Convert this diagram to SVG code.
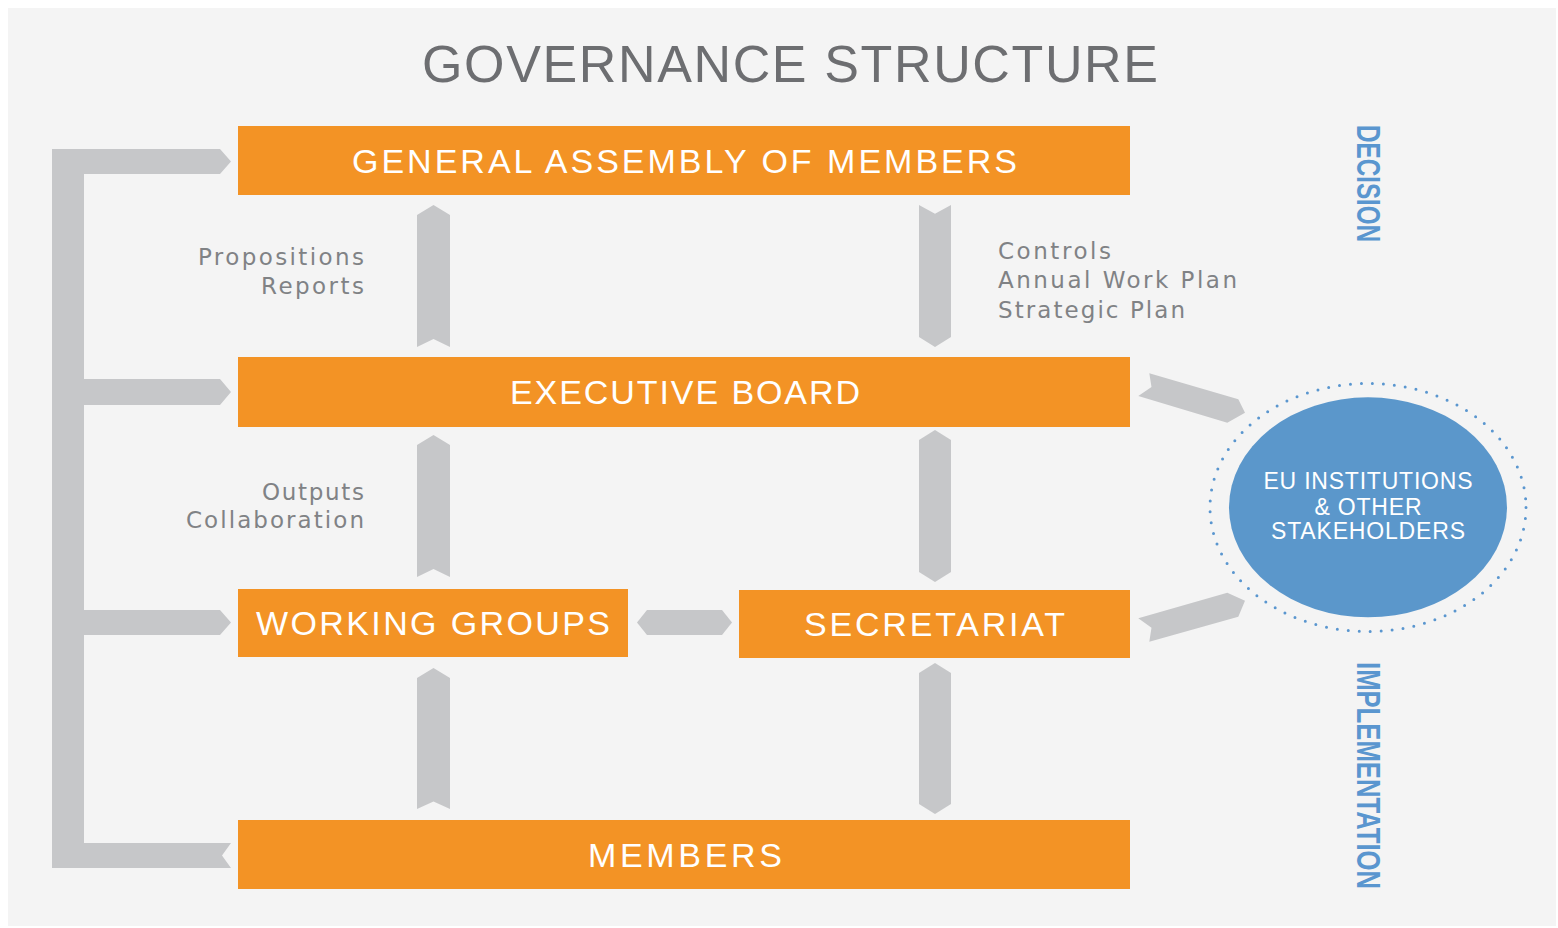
<svg xmlns="http://www.w3.org/2000/svg" width="1558" height="928" viewBox="0 0 1558 928">
  <style>
    .box { fill: #f39325; }
    .btxt { fill: #ffffff; font-family: "Liberation Sans", Arial, sans-serif; font-size: 34px; text-anchor: middle; }
    .conn { fill: #c6c7c9; }
    .lbl { fill: #808285; font-family: "DejaVu Sans", "Liberation Sans", sans-serif; font-size: 23px; }
    .r { text-anchor: end; }
    .vtxt { fill: #5a96cf; font-family: "Liberation Sans", Arial, sans-serif; font-size: 34px; font-weight: bold; }
    .ctxt { fill: #ffffff; font-family: "Liberation Sans", Arial, sans-serif; font-size: 23px; text-anchor: middle; }
  </style>
  <rect x="0" y="0" width="1558" height="928" fill="#ffffff"/>
  <rect x="8" y="8" width="1548" height="918" fill="#f4f4f4"/>

  <text id="title" x="790" y="82" fill="#6d6e71" font-family="Liberation Sans, Arial, sans-serif" font-size="52" text-anchor="middle" textLength="736" lengthAdjust="spacing">GOVERNANCE STRUCTURE</text>

  <g id="connectors">
    <path class="conn" d="M52,149 L220,149 L231,161.5 L220,174 L84,174 L84,379 L220,379 L231,392 L220,405 L84,405 L84,610 L220,610 L231,622.5 L220,635 L84,635 L84,843 L231,843 L222,855.5 L231,868 L52,868 Z"/>
    <polygon class="conn" points="433.5,205 450,215 450,347 433.5,339 417,347 417,215"/>
    <polygon class="conn" points="919,205 935,213.7 951,205 951,337 935,347 919,337"/>
    <polygon class="conn" points="433.5,435 450,445 450,577 433.5,569 417,577 417,445"/>
    <polygon class="conn" points="935,430 951,440 951,572 935,582 919,572 919,440"/>
    <polygon class="conn" points="433.5,668 450,678 450,809 433.5,801.5 417,809 417,678"/>
    <polygon class="conn" points="935,663 951,673 951,804 935,814 919,804 919,673"/>
    <polygon class="conn" points="637,622.5 647,610 722,610 732,622.5 722,635 647,635"/>
    <polygon class="conn" points="1149.3,373.3 1238.3,399.3 1245,412.7 1227.3,422.7 1138.3,396 1151.5,387"/>
    <polygon class="conn" points="1138.3,618.3 1227.3,592.7 1245,600.7 1238.3,616.7 1149.3,641.7 1151.5,627.8"/>
  </g>

  <g id="labels">
    <text class="lbl r" x="364" y="265" textLength="166" lengthAdjust="spacing">Propositions</text>
    <text class="lbl r" x="364" y="294" textLength="103" lengthAdjust="spacing">Reports</text>
    <text class="lbl" x="998" y="259" textLength="113" lengthAdjust="spacing">Controls</text>
    <text class="lbl" x="998" y="288" textLength="239" lengthAdjust="spacing">Annual Work Plan</text>
    <text class="lbl" x="998" y="318" textLength="187" lengthAdjust="spacing">Strategic Plan</text>
    <text class="lbl r" x="364" y="500" textLength="102" lengthAdjust="spacing">Outputs</text>
    <text class="lbl r" x="364" y="528" textLength="178" lengthAdjust="spacing">Collaboration</text>
  </g>

  <g id="general-assembly">
    <rect class="box" x="238" y="126" width="892" height="69"/>
    <text class="btxt" x="684.5" y="173" textLength="665" lengthAdjust="spacing">GENERAL ASSEMBLY OF MEMBERS</text>
  </g>
  <g id="executive-board">
    <rect class="box" x="238" y="357" width="892" height="70"/>
    <text class="btxt" x="685" y="404" textLength="350" lengthAdjust="spacing">EXECUTIVE BOARD</text>
  </g>
  <g id="working-groups">
    <rect class="box" x="238" y="589" width="390" height="68"/>
    <text class="btxt" x="433" y="635" textLength="354" lengthAdjust="spacing">WORKING GROUPS</text>
  </g>
  <g id="secretariat">
    <rect class="box" x="739" y="590" width="391" height="68"/>
    <text class="btxt" x="934.5" y="636" textLength="261" lengthAdjust="spacing">SECRETARIAT</text>
  </g>
  <g id="members">
    <rect class="box" x="238" y="820" width="892" height="69"/>
    <text class="btxt" x="685" y="867" textLength="194" lengthAdjust="spacing">MEMBERS</text>
  </g>

  <g id="eu-institutions">
    <ellipse cx="1368" cy="507.5" rx="158" ry="124" fill="none" stroke="#5a96cf" stroke-width="3" stroke-linecap="round" stroke-dasharray="0 11"/>
    <ellipse cx="1368" cy="507.3" rx="139" ry="110" fill="#5b97cb"/>
    <text class="ctxt" x="1368" y="489" textLength="209" lengthAdjust="spacing">EU INSTITUTIONS</text>
    <text class="ctxt" x="1368" y="514.5" textLength="107" lengthAdjust="spacing">&amp; OTHER</text>
    <text class="ctxt" x="1368" y="539" textLength="194" lengthAdjust="spacing">STAKEHOLDERS</text>
  </g>

  <g id="side-labels">
    <text class="vtxt" transform="translate(1357,125) rotate(90) scale(0.713,1)">DECISION</text>
    <text class="vtxt" transform="translate(1357,662) rotate(90) scale(0.755,1)">IMPLEMENTATION</text>
  </g>
</svg>
